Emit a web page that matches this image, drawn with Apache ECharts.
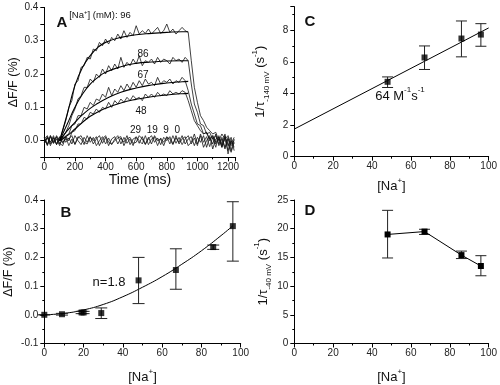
<!DOCTYPE html>
<html><head><meta charset="utf-8">
<script src="https://cdn.jsdelivr.net/npm/echarts@6/dist/echarts.min.js"></script>
<style>html,body{margin:0;padding:0;background:#fff}#c{width:500px;height:385px}</style>
</head><body><div id="c"></div>
<script>
// ---------- Panel A: fluorescence traces ----------
const timeMs = [0,20,40,60,80,100,120,140,160,180,200,220,240,260,280,300,320,340,360,380,400,420,440,460,480,500,520,540,560,580,600,620,640,660,680,700,720,740,760,780,800,820,840,860,880,900,920,940,960,980,1000,1020,1040,1060,1080,1100,1120,1140,1160,1180,1200,1220,1240];
const trace96 = [0.01,-0.015,0.012,-0.008,0.015,0.0,0.03,0.06,0.10,0.12,
  0.17,0.18,0.22,0.225,0.25,0.245,0.275,0.27,0.295,0.285,
  0.305,0.29,0.31,0.30,0.32,0.305,0.33,0.31,0.325,0.315,
  0.345,0.32,0.33,0.322,0.335,0.32,0.33,0.34,0.322,0.33,
  0.35,0.325,0.335,0.32,0.33,0.34,0.33,0.325,0.24,0.16,
  0.115,0.075,0.06,0.04,0.03,0.02,0.025,0.0,0.02,0.005,
  0.015,-0.01,0.01];
const trace86 = [-0.01,0.012,-0.005,0.01,-0.012,0.005,0.01,0.025,0.045,0.075,
  0.095,0.125,0.135,0.16,0.16,0.185,0.175,0.20,0.19,0.215,
  0.20,0.225,0.21,0.23,0.215,0.25,0.22,0.235,0.225,0.245,
  0.23,0.255,0.225,0.24,0.235,0.245,0.23,0.25,0.235,0.245,
  0.24,0.23,0.25,0.24,0.245,0.235,0.25,0.24,0.17,0.11,
  0.085,0.05,0.045,0.02,0.025,0.005,0.015,-0.01,0.01,-0.02,
  0.005,-0.015,0.0];
const trace67 = [0.008,-0.012,0.015,-0.005,0.01,-0.01,0.005,0.015,0.02,0.045,
  0.05,0.075,0.075,0.10,0.095,0.115,0.105,0.125,0.12,0.14,
  0.13,0.16,0.135,0.155,0.145,0.165,0.15,0.17,0.155,0.175,
  0.16,0.18,0.165,0.185,0.17,0.175,0.165,0.19,0.17,0.18,
  0.175,0.185,0.17,0.18,0.175,0.19,0.18,0.15,0.11,0.08,
  0.05,0.045,0.02,0.025,0.005,0.015,-0.005,0.01,-0.015,0.005,
  -0.03,0.0,-0.01];
const trace48 = [-0.005,0.01,-0.015,0.008,-0.01,0.012,-0.005,0.005,0.0,0.025,
  0.03,0.05,0.05,0.07,0.065,0.085,0.08,0.095,0.085,0.10,
  0.095,0.115,0.10,0.12,0.11,0.125,0.115,0.13,0.12,0.135,
  0.125,0.13,0.12,0.14,0.13,0.14,0.13,0.145,0.135,0.14,
  0.135,0.15,0.14,0.145,0.14,0.15,0.145,0.12,0.09,0.06,
  0.045,0.03,0.02,0.025,0.0,0.015,-0.01,0.005,-0.02,0.01,
  -0.01,-0.035,-0.005];
const traceFlatA = [0.01,-0.012,0.015,-0.008,0.005,-0.015,0.012,-0.005,0.008,-0.01,
  0.015,0.0,-0.012,0.01,-0.005,0.012,-0.01,0.005,0.015,-0.008,
  0.01,-0.015,0.005,0.012,-0.01,0.008,-0.005,0.015,-0.012,0.005,
  0.01,-0.008,0.012,-0.01,0.005,0.015,-0.005,0.008,-0.012,0.01,
  0.0,0.012,-0.01,0.008,-0.005,0.015,-0.01,0.005,0.012,-0.015,
  0.01,-0.005,0.015,-0.02,0.01,-0.01,0.02,-0.015,0.005,-0.025,
  0.01,-0.03,0.005];
const traceFlatB = [-0.01,0.008,-0.005,0.015,-0.012,0.01,-0.008,0.012,-0.015,0.005,
  -0.01,0.012,0.005,-0.012,0.015,-0.005,0.01,-0.015,0.0,0.012,
  -0.01,0.008,-0.012,0.005,0.015,-0.01,0.01,-0.008,0.005,-0.015,
  0.012,0.0,-0.01,0.015,-0.012,0.005,0.01,-0.015,0.008,-0.005,
  0.012,-0.01,0.015,-0.008,0.01,-0.012,0.005,0.015,-0.01,0.008,
  -0.015,0.02,-0.005,0.012,-0.018,0.01,-0.02,0.015,-0.01,0.02,
  -0.04,0.0,-0.02];
const traceFlatC = [0.005,0.015,-0.01,0.0,0.012,-0.008,-0.015,0.01,0.005,0.015,
  -0.012,0.008,0.015,-0.005,-0.01,0.01,0.0,0.012,-0.015,0.005,
  0.015,-0.005,-0.01,0.0,0.008,0.012,-0.015,0.005,0.01,-0.008,
  -0.005,0.015,0.005,-0.012,0.01,-0.01,0.015,0.0,0.005,-0.015,
  0.01,0.005,-0.012,0.015,-0.01,0.005,0.012,-0.015,-0.005,0.02,
  -0.01,0.015,-0.02,0.0,0.015,-0.025,0.005,0.01,-0.02,0.015,
  -0.015,0.01,-0.03];
const fitTime = [100,150,200,250,300,350,400,500,600,700,800,900,940];
const fit96 = [0,0.08,0.165,0.22,0.255,0.28,0.295,0.31,0.318,0.322,0.325,0.327,0.327];
const fit86 = [0,0.05,0.10,0.14,0.17,0.19,0.205,0.222,0.232,0.236,0.239,0.24,0.24];
const fit67 = [0,0.03,0.055,0.078,0.097,0.112,0.125,0.145,0.158,0.167,0.173,0.177,0.178];
const fit48 = [0,0.015,0.035,0.055,0.073,0.086,0.097,0.113,0.124,0.132,0.137,0.141,0.142];

// ---------- Panel B: amplitude vs [Na+] ----------
const naB = [0,9,19,20,29,48,67,86,96];
const ampB = [0,0.002,0.008,0.008,0.006,0.12,0.156,0.236,0.309];
const ampBLow = [0,-0.001,0.004,0.004,-0.013,0.039,0.089,0.228,0.187];
const ampBHigh = [0,0.005,0.012,0.012,0.024,0.20,0.23,0.243,0.394];
const fitBNa = [0,10,20,30,40,50,60,70,80,90,96];
const fitBAmp = [0,0.005,0.017,0.036,0.063,0.096,0.133,0.176,0.223,0.276,0.31];

// ---------- Panel C: 1/tau(-140 mV) ----------
const naC = [48,67,86,96];
const rateC = [4.74,6.28,7.48,7.73];
const rateCLow = [4.38,5.52,6.32,6.99];
const rateCHigh = [5.05,7.01,8.59,8.42];
const lineCNa = [0,100];
const lineCRate = [1.75,8.15];

// ---------- Panel D: 1/tau(-40 mV) ----------
const naD = [48,67,86,96];
const rateD = [19.0,19.5,15.4,13.5];
const rateDLow = [14.9,19.0,14.8,11.8];
const rateDHigh = [23.2,19.9,16.1,15.3];

const zip = (xs, ys) => xs.map((x, i) => [x, ys[i]]);
const FONT = 'Liberation Sans, Arial, sans-serif';
const INK = '#111';

function axis(opts) {
  const base = {
    type: 'value',
    axisLine: { show: true, onZero: false, lineStyle: { color: '#000', width: 1 } },
    axisTick: { show: true, inside: false, length: 4, lineStyle: { color: '#000', width: 1 } },
    minorTick: { show: true, splitNumber: 2, length: 2, lineStyle: { color: '#000', width: 1 } },
    splitLine: { show: false },
    minorSplitLine: { show: false },
    axisLabel: { color: '#222', fontSize: 10, fontFamily: FONT, margin: 5, formatter: v => String(v) },
    nameLocation: 'middle',
    nameTextStyle: { color: INK, fontSize: 13, fontFamily: FONT }
  };
  const out = Object.assign({}, base, opts);
  if (opts.axisLabel) out.axisLabel = Object.assign({}, base.axisLabel, opts.axisLabel);
  if (opts.nameTextStyle) out.nameTextStyle = Object.assign({}, base.nameTextStyle, opts.nameTextStyle);
  if (opts.minorTick) out.minorTick = Object.assign({}, base.minorTick, opts.minorTick);
  return out;
}

const subSupRich = {
  m: { fontSize: 13, fontFamily: FONT, color: INK },
  sub: { fontSize: 8, fontFamily: FONT, color: INK, verticalAlign: 'bottom', lineHeight: 20 },
  sup: { fontSize: 8, fontFamily: FONT, color: INK, verticalAlign: 'top', lineHeight: 20 }
};
const naName = '{m|[Na}{sup|+}{m|]}';

function errSeries(xi, xs, lo, hi, cap) {
  return {
    type: 'custom', xAxisIndex: xi, yAxisIndex: xi, silent: true, z: 3,
    data: xs.map((x, i) => [x, lo[i], hi[i]]),
    encode: { x: 0, y: [1, 2] },
    renderItem: (params, api) => {
      const x = api.value(0);
      const p1 = api.coord([x, api.value(1)]);
      const p2 = api.coord([x, api.value(2)]);
      const h = cap / 2;
      const st = { stroke: '#222', lineWidth: 1 };
      return { type: 'group', children: [
        { type: 'line', shape: { x1: p1[0], y1: p1[1], x2: p2[0], y2: p2[1] }, style: st },
        { type: 'line', shape: { x1: p1[0] - h, y1: p1[1], x2: p1[0] + h, y2: p1[1] }, style: st },
        { type: 'line', shape: { x1: p2[0] - h, y1: p2[1], x2: p2[0] + h, y2: p2[1] }, style: st }
      ]};
    }
  };
}
function traceSeries(vals, color, w) {
  return { type: 'line', xAxisIndex: 0, yAxisIndex: 0, data: zip(timeMs, vals), symbol: 'none',
    lineStyle: { color: color, width: w }, silent: true, z: 2 };
}
function fitSeries(vals) {
  return { type: 'line', xAxisIndex: 0, yAxisIndex: 0, data: zip(fitTime, vals), symbol: 'none', smooth: true,
    lineStyle: { color: '#000', width: 1.1 }, silent: true, z: 4 };
}
function label(text, x, y, size, opt) {
  return Object.assign({ type: 'text', x: x, y: y, silent: true, z: 10,
    style: Object.assign({ text: text, fill: INK, font: size + 'px ' + FONT,
      align: 'center', verticalAlign: 'middle', textAlign: 'center', textVerticalAlign: 'middle' }, opt || {}) });
}

const option = {
  animation: false,
  backgroundColor: '#fff',
  grid: [
    { left: 44.3, top: 7.4, width: 191.4, height: 149.9 },
    { left: 44.3, top: 200, width: 196.4, height: 150 },
    { left: 294.3, top: 6.6, width: 196.4, height: 150.1 },
    { left: 294.3, top: 200, width: 196.4, height: 150.7 }
  ],
  xAxis: [
    axis({ gridIndex: 0, min: 0, max: 1250, interval: 200, axisLabel: { showMaxLabel: false },
      name: 'Time (ms)', nameGap: 16, nameTextStyle: { fontSize: 14 } }),
    axis({ gridIndex: 1, min: 0, max: 100, interval: 20, name: naName, nameGap: 24,
      nameTextStyle: { rich: subSupRich } }),
    axis({ gridIndex: 2, min: 0, max: 100, interval: 20, name: naName, nameGap: 20,
      nameTextStyle: { rich: subSupRich } }),
    axis({ gridIndex: 3, min: 0, max: 100, interval: 20, name: naName, nameGap: 24,
      nameTextStyle: { rich: subSupRich } })
  ],
  yAxis: [
    axis({ gridIndex: 0, min: -0.05, max: 0.4, interval: 0.05, minorTick: { show: false },
      axisLabel: { margin: 6, formatter: v => { const r = Math.round(v * 10); return Math.abs(v * 10 - r) < 1e-6 ? (r / 10).toFixed(1) : ''; } },
      name: 'ΔF/F (%)', nameGap: 20, nameTextStyle: { fontSize: 12.5 } }),
    axis({ gridIndex: 1, min: -0.1, max: 0.4, interval: 0.1,
      axisLabel: { margin: 6, formatter: v => v.toFixed(1) },
      name: 'ΔF/F (%)', nameGap: 29, nameTextStyle: { fontSize: 12.5 } }),
    axis({ gridIndex: 2, min: 0, max: 9.5, interval: 2, axisLabel: { margin: 6, showMaxLabel: false },
      name: '{m|1/τ}{sub|-140 mV}{m| (s}{sup|-1}{m|)}', nameGap: 24, nameTextStyle: { rich: subSupRich } }),
    axis({ gridIndex: 3, min: 0, max: 25, interval: 5, axisLabel: { margin: 6 },
      name: '{m|1/τ}{sub|-40 mV}{m| (s}{sup|-1}{m|)}', nameGap: 20, nameTextStyle: { rich: subSupRich } })
  ],
  series: [
    traceSeries(traceFlatA, '#111', 0.8),
    traceSeries(traceFlatB, '#222', 0.8),
    traceSeries(traceFlatC, '#111', 0.8),
    traceSeries(trace48, '#111', 0.8),
    traceSeries(trace67, '#111', 0.8),
    traceSeries(trace86, '#111', 0.8),
    traceSeries(trace96, '#111', 0.8),
    fitSeries(fit48), fitSeries(fit67), fitSeries(fit86), fitSeries(fit96),

    { type: 'line', xAxisIndex: 1, yAxisIndex: 1, data: zip(fitBNa, fitBAmp), smooth: true, symbol: 'none',
      lineStyle: { color: '#000', width: 1 }, z: 2, silent: true },
    errSeries(1, naB, ampBLow, ampBHigh, 12),
    { type: 'scatter', xAxisIndex: 1, yAxisIndex: 1, data: zip(naB, ampB), symbol: 'rect', symbolSize: 6,
      itemStyle: { color: '#000' }, z: 5, silent: true },

    { type: 'line', xAxisIndex: 2, yAxisIndex: 2, data: zip(lineCNa, lineCRate), symbol: 'none',
      lineStyle: { color: '#000', width: 1 }, z: 2, silent: true },
    errSeries(2, naC, rateCLow, rateCHigh, 11),
    { type: 'scatter', xAxisIndex: 2, yAxisIndex: 2, data: zip(naC, rateC), symbol: 'rect', symbolSize: 6,
      itemStyle: { color: '#000' }, z: 5, silent: true },

    errSeries(3, naD, rateDLow, rateDHigh, 11),
    { type: 'line', xAxisIndex: 3, yAxisIndex: 3, data: zip(naD, rateD), symbol: 'rect', symbolSize: 6,
      lineStyle: { color: '#000', width: 1 }, itemStyle: { color: '#000' }, z: 5, silent: true }
  ],
  graphic: [
    label('A', 62, 23, 'bold 15', {}),
    label('B', 66, 213, 'bold 15', {}),
    label('C', 310, 22, 'bold 15', {}),
    label('D', 310, 211, 'bold 15', {}),
    label('{t|[Na}{s|+}{t|] (mM): 96}', 100, 15.5, 9.5, { rich: {
      t: { fontSize: 9.5, fontFamily: FONT, fill: INK, color: INK },
      s: { fontSize: 6, fontFamily: FONT, fill: INK, color: INK, verticalAlign: 'top', lineHeight: 12 } } }),
    label('86', 143, 54, 10),
    label('67', 143, 75, 10),
    label('48', 141, 111, 10),
    label('29  19  9  0', 155, 130, 10),
    label('n=1.8', 109, 282, 13),
    label('{m|64 M}{sup|-1}{m|s}{sup|-1}', 400, 96, 13, { rich: subSupRich })
  ]
};
const chart = echarts.init(document.getElementById('c'));
chart.setOption(option);
</script></body></html>
